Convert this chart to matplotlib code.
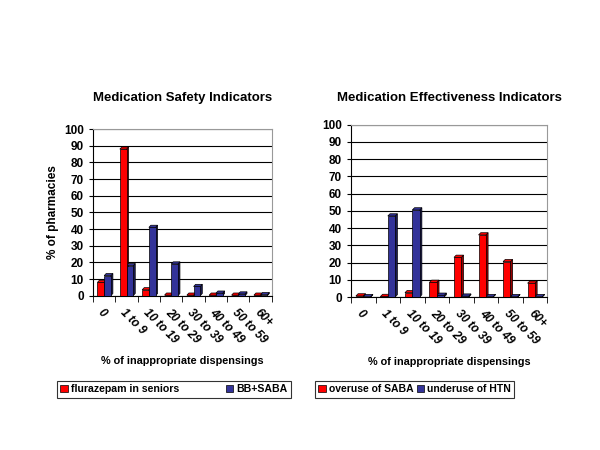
import numpy as np
import matplotlib.pyplot as plt
from matplotlib.patches import Polygon

plt.rcParams['font.family'] = ['Liberation Sans', 'DejaVu Sans']
plt.rcParams['font.weight'] = 'bold'
plt.rcParams['axes.titleweight'] = 'bold'
plt.rcParams['axes.labelweight'] = 'bold'

categories = ['0', '1 to 9', '10 to 19', '20 to 29', '30 to 39', '40 to 49', '50 to 59', '60+']

# Medication Safety Indicators
flurazepam = [8, 88, 3.5, 0.3, 0.3, 0.3, 0.3, 0.3]
bb_saba = [12, 18, 41, 19, 5.5, 1.5, 1, 0.6]

# Medication Effectiveness Indicators
overuse_saba = [0.6, 0.3, 2.5, 8.5, 23, 36, 20.5, 8]
underuse_htn = [0.2, 47, 50.5, 1, 0.5, 0.2, 0.2, 0.2]

RED = '#ff0000'
RED_DARK = '#990000'
BLUE = '#333399'
BLUE_DARK = '#1a1a55'


def bars3d(ax, x, vals, color, dark, w=0.3, dx=0.09, dy=1.3):
    # front face + side + top to fake the excel 3d look
    for xi, v in zip(x, vals):
        x0, x1 = xi - w / 2, xi + w / 2
        side = Polygon([(x1, 0), (x1 + dx, dy), (x1 + dx, v + dy), (x1, v)],
                       closed=True, fc=dark, ec='black', lw=0.5, zorder=3)
        top = Polygon([(x0, v), (x0 + dx, v + dy), (x1 + dx, v + dy), (x1, v)],
                      closed=True, fc=color, ec='black', lw=0.5, zorder=3)
        ax.add_patch(side)
        ax.add_patch(top)
        ax.bar(xi, v, width=w, bottom=0, color=color, edgecolor='black',
               linewidth=0.5, zorder=4)


def setup(ax, title, s1, s2, pad):
    x = np.arange(len(categories))
    bars3d(ax, x - 0.15, s1, RED, RED_DARK)
    bars3d(ax, x + 0.15, s2, BLUE, BLUE_DARK)
    ax.set_xlim(-0.5, len(categories) - 0.5)
    ax.set_ylim(0, 100)
    ax.set_yticks(range(0, 101, 10))
    ax.yaxis.grid(True, color='black', lw=0.8)
    ax.set_axisbelow(True)
    ax.set_xticks(x)
    ax.set_xticklabels(categories, rotation=-45, ha='left', va='top',
                       rotation_mode='anchor', fontsize=8.5, style='italic')
    ax.tick_params(axis='x', length=0, pad=8)
    ax.set_xticks(np.arange(-0.5, len(categories)), minor=True)
    ax.tick_params(axis='x', which='minor', length=4, direction='out')
    ax.tick_params(axis='y', labelsize=8.5, length=3, direction='out')
    for s in ['top', 'right']:
        ax.spines[s].set_color('#999999')
    ax.set_xlabel('% of inappropriate dispensings', fontsize=7.8, labelpad=7)
    ax.set_title(title, fontsize=9.5, pad=pad)
    h1 = plt.Rectangle((0, 0), 1, 1, fc=RED, ec='black', lw=0.5)
    h2 = plt.Rectangle((0, 0), 1, 1, fc=BLUE, ec='black', lw=0.5)
    return h1, h2


fig = plt.figure(figsize=(6, 4.5), dpi=100)

ax1 = fig.add_axes([0.155, 0.343, 0.298, 0.370])
h1, h2 = setup(ax1, 'Medication Safety Indicators', flurazepam, bb_saba, 20)
ax1.set_ylabel('% of pharmacies', fontsize=8.5)

ax2 = fig.add_axes([0.585, 0.340, 0.327, 0.383])
h3, h4 = setup(ax2, 'Medication Effectiveness Indicators', overuse_saba, underuse_htn, 17)

leg1 = fig.legend([h1, h2], ['flurazepam in seniors', 'BB+SABA'], ncol=2,
                  loc='center', bbox_to_anchor=(0.29, 0.135), fontsize=7.6,
                  frameon=True, fancybox=False, edgecolor='black',
                  handlelength=0.7, handleheight=0.7, columnspacing=4.4,
                  handletextpad=0.3, borderpad=0.35)
leg1.get_frame().set_linewidth(0.8)
leg2 = fig.legend([h3, h4], ['overuse of SABA', 'underuse of HTN'], ncol=2,
                  loc='center', bbox_to_anchor=(0.691, 0.135), fontsize=7.5,
                  frameon=True, fancybox=False, edgecolor='black',
                  handlelength=0.7, handleheight=0.7, columnspacing=0.3,
                  handletextpad=0.3, borderpad=0.35)
leg2.get_frame().set_linewidth(0.8)

fig.savefig('out.png', dpi=100)
